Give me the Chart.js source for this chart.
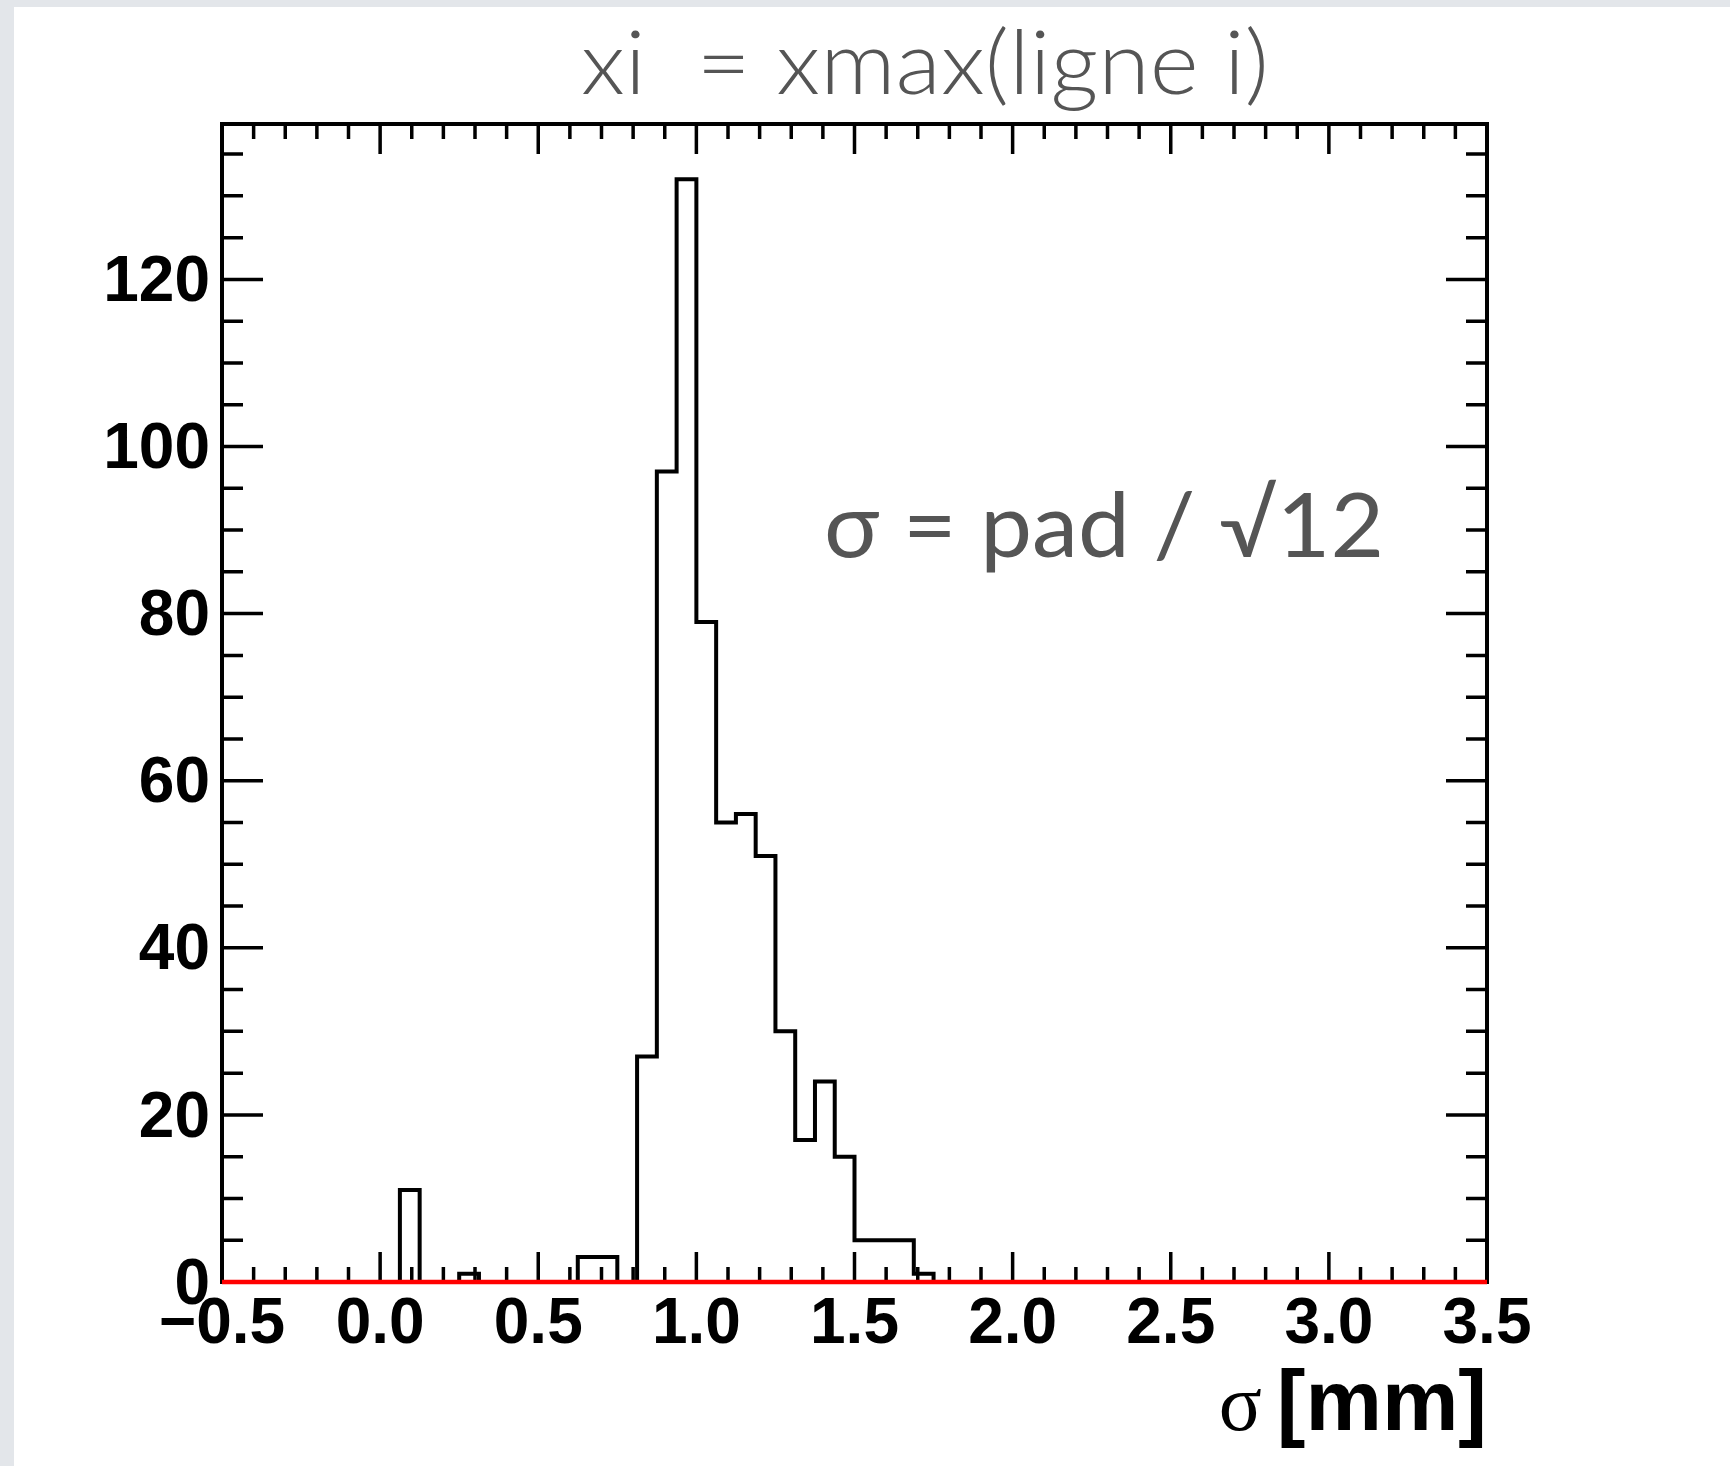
<!DOCTYPE html>
<html><head><meta charset="utf-8">
<script src="https://cdn.jsdelivr.net/npm/chart.js@4.4.0/dist/chart.umd.min.js"></script>
<style>html,body{margin:0;padding:0;background:#fff;overflow:hidden}canvas{display:block}</style>
</head><body>
<canvas id="c" width="1730" height="1466" style="width:1730px;height:1466px"></canvas>
<script>
// ---- data ----
const binLowEdges = [
  -0.5, -0.4375, -0.375, -0.3125, -0.25, -0.1875, -0.125, -0.0625,
  0.0, 0.0625, 0.125, 0.1875, 0.25, 0.3125, 0.375, 0.4375,
  0.5, 0.5625, 0.625, 0.6875, 0.75, 0.8125, 0.875, 0.9375,
  1.0, 1.0625, 1.125, 1.1875, 1.25, 1.3125, 1.375, 1.4375,
  1.5, 1.5625, 1.625, 1.6875, 1.75, 1.8125, 1.875, 1.9375,
  2.0, 2.0625, 2.125, 2.1875, 2.25, 2.3125, 2.375, 2.4375,
  2.5, 2.5625, 2.625, 2.6875, 2.75, 2.8125, 2.875, 2.9375,
  3.0, 3.0625, 3.125, 3.1875, 3.25, 3.3125, 3.375, 3.4375
];
const binCounts = [
  0, 0, 0, 0, 0, 0, 0, 0,
  0, 11, 0, 0, 1, 0, 0, 0,
  0, 0, 3, 3, 0, 27, 97, 132,
  79, 55, 56, 51, 30, 17, 24, 15,
  5, 5, 5, 1, 0, 0, 0, 0,
  0, 0, 0, 0, 0, 0, 0, 0,
  0, 0, 0, 0, 0, 0, 0, 0,
  0, 0, 0, 0, 0, 0, 0, 0
];
const xRange = [-0.5, 3.5];
const yRange = [0, 138.6];
const xTickValues = [-0.5, 0, 0.5, 1, 1.5, 2, 2.5, 3, 3.5];
const yTickValues = [0, 20, 40, 60, 80, 100, 120];
const referenceLineY = 0;
const titleText = 'xi  = xmax(ligne i)';
const annotationText = 'σ = pad / √12';
const xTitleSymbol = 'σ';
const xTitleUnit = '[mm]';

// ---- build datasets ----
const histPoints = binLowEdges.map((x, i) => ({x: x, y: binCounts[i]}));
histPoints.push({x: xRange[1], y: 0});
const refLine = [{x: xRange[0], y: referenceLineY}, {x: xRange[1], y: referenceLineY}];

function fmtX(v) {
  if (Math.abs(v) < 1e-9) return '0.0';
  return v < 0 ? '\u2212' + (-v).toFixed(1) : v.toFixed(1);
}

const framePlugin = {
  id: 'frame',
  beforeDraw(chart) {
    const ctx = chart.ctx;
    ctx.save();
    ctx.fillStyle = '#ffffff';
    ctx.fillRect(0, 0, chart.width, chart.height);
    ctx.fillStyle = '#e3e6ea';
    ctx.fillRect(0, 0, chart.width, 7);
    ctx.fillRect(0, 0, 14, chart.height);
    ctx.restore();
  },
  beforeDatasetsDraw(chart) {
    const ctx = chart.ctx, a = chart.chartArea;
    const xs = chart.scales.x, ys = chart.scales.y;
    ctx.save();
    ctx.strokeStyle = '#000';
    ctx.lineCap = 'butt';
    ctx.lineWidth = 3.5;
    ctx.beginPath();
    for (let i = 0; i < xTickValues.length; i++) {
      const v0 = xTickValues[i];
      const sub = i < xTickValues.length - 1 ? 5 : 1;
      for (let j = 0; j < sub; j++) {
        const v = v0 + j * 0.1;
        const px = xs.getPixelForValue(v);
        const len = j === 0 ? 30 : 15;
        ctx.moveTo(px, a.bottom); ctx.lineTo(px, a.bottom - len);
        ctx.moveTo(px, a.top); ctx.lineTo(px, a.top + len);
      }
    }
    for (let v = 0; v <= yRange[1]; v += 5) {
      const py = ys.getPixelForValue(v);
      const len = (v % 20 === 0) ? 41 : 21;
      ctx.moveTo(a.left, py); ctx.lineTo(a.left + len, py);
      ctx.moveTo(a.right, py); ctx.lineTo(a.right - len, py);
    }
    ctx.stroke();
    ctx.lineWidth = 4;
    ctx.lineJoin = 'miter';
    ctx.strokeRect(a.left, a.top, a.right - a.left, a.bottom - a.top);
    ctx.restore();
  },
  afterDraw(chart) {
    const ctx = chart.ctx, a = chart.chartArea;
    ctx.save();
    ctx.fillStyle = '#555555';
    ctx.textBaseline = 'alphabetic';
    ctx.textAlign = 'left';
    ctx.font = '300 88px Lato, "Open Sans", sans-serif';
    let w = ctx.measureText(titleText).width;
    ctx.save();
    ctx.translate(581, 94);
    ctx.scale(688 / w, 1);
    ctx.fillText(titleText, 0, 0);
    ctx.restore();
    ctx.font = '400 90px Lato, "Open Sans", sans-serif';
    w = ctx.measureText(annotationText).width;
    ctx.save();
    ctx.translate(824, 557);
    ctx.scale(560 / w, 1);
    ctx.fillText(annotationText, 0, 0);
    ctx.restore();
    ctx.fillStyle = '#000';
    ctx.textAlign = 'right';
    ctx.font = 'bold 86px "Liberation Sans", Arial, sans-serif';
    const uw = ctx.measureText(xTitleUnit).width;
    ctx.fillText(xTitleUnit, a.right, 1430);
    ctx.font = '80px "Liberation Serif", "Times New Roman", serif';
    ctx.fillText(xTitleSymbol, a.right - uw - 15, 1430);
    ctx.restore();
  }
};

new Chart(document.getElementById('c'), {
  type: 'line',
  data: {
    datasets: [
      {data: refLine, borderColor: '#ff0000', borderWidth: 4.5, pointRadius: 0, fill: false, order: 0, clip: false},
      {data: histPoints, borderColor: '#000000', borderWidth: 4, pointRadius: 0, fill: false,
       stepped: 'before', tension: 0, order: 1, clip: false}
    ]
  },
  options: {
    responsive: false,
    animation: false,
    devicePixelRatio: 1,
    layout: {padding: {left: 0, top: 124, right: 243, bottom: 0}},
    plugins: {legend: {display: false}, tooltip: {enabled: false}, title: {display: false}},
    scales: {
      x: {
        type: 'linear', min: xRange[0], max: xRange[1],
        grid: {display: false, drawTicks: false}, border: {display: false},
        afterFit(s) { s.height = 184; },
        ticks: {
          stepSize: 0.5, autoSkip: false, maxRotation: 0, minRotation: 0, padding: 5,
          color: '#000', font: {family: '"Liberation Sans", Arial, sans-serif', weight: 'bold', size: 64},
          callback: (v) => xTickValues.some(t => Math.abs(t - v) < 1e-9) ? fmtX(v) : ''
        }
      },
      y: {
        type: 'linear', min: yRange[0], max: yRange[1],
        grid: {display: false, drawTicks: false}, border: {display: false},
        afterFit(s) { s.width = 222; },
        ticks: {
          stepSize: 20, padding: 12, autoSkip: false, labelOffset: 4,
          color: '#000', font: {family: '"Liberation Sans", Arial, sans-serif', weight: 'bold', size: 64},
          callback: (v) => yTickValues.includes(v) ? String(v) : ''
        }
      }
    }
  },
  plugins: [framePlugin]
});
</script>
</body></html>
